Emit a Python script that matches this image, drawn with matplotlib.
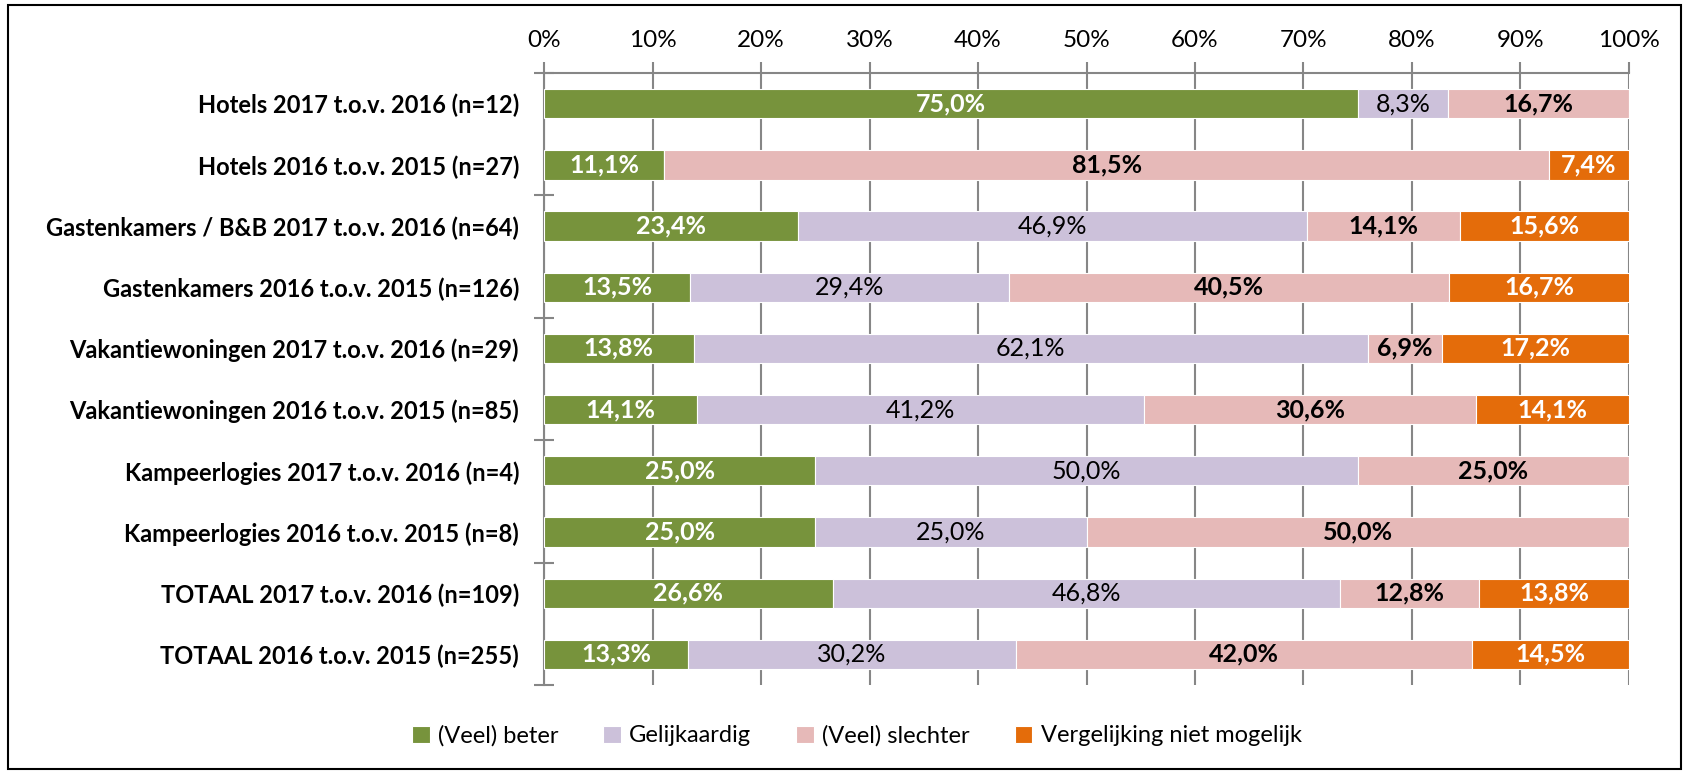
import matplotlib.pyplot as plt
import numpy as np
from matplotlib.patches import Rectangle

plt.rcParams['font.family'] = ['Lato', 'DejaVu Sans']

categories = ["Hotels 2017 t.o.v. 2016 (n=12)",
              "Hotels 2016 t.o.v. 2015 (n=27)",
              "Gastenkamers / B&B 2017 t.o.v. 2016 (n=64)",
              "Gastenkamers 2016 t.o.v. 2015 (n=126)",
              "Vakantiewoningen 2017 t.o.v. 2016 (n=29)",
              "Vakantiewoningen 2016 t.o.v. 2015 (n=85)",
              "Kampeerlogies 2017 t.o.v. 2016 (n=4)",
              "Kampeerlogies 2016 t.o.v. 2015 (n=8)",
              "TOTAAL 2017 t.o.v. 2016 (n=109)",
              "TOTAAL 2016 t.o.v. 2015 (n=255)"]

beter = [75.0, 11.1, 23.4, 13.5, 13.8, 14.1, 25.0, 25.0, 26.6, 13.3]
gelijk = [8.3, 0.0, 46.9, 29.4, 62.1, 41.2, 50.0, 25.0, 46.8, 30.2]
slechter = [16.7, 81.5, 14.1, 40.5, 6.9, 30.6, 25.0, 50.0, 12.8, 42.0]
niet = [0.0, 7.4, 15.6, 16.7, 17.2, 14.1, 0.0, 0.0, 13.8, 14.5]

series_names = ["(Veel) beter", "Gelijkaardig", "(Veel) slechter", "Vergelijking niet mogelijk"]
colors = ["#77933C", "#CCC1DA", "#E6B9B8", "#E46C0A"]
label_colors = ["white", "black", "black", "white"]
label_weights = ["bold", "normal", "bold", "bold"]

fig = plt.figure(figsize=(16.9, 7.72), dpi=100)
ax = fig.add_axes([0.3219, 0.1127, 0.9639 - 0.3219, 0.9054 - 0.1127])

y = np.arange(len(categories))
left = np.zeros(len(categories))
for vals, name, col, lc, lw in zip([beter, gelijk, slechter, niet], series_names,
                                   colors, label_colors, label_weights):
    vals = np.array(vals)
    ax.barh(y, vals, left=left, height=0.48, color=col, edgecolor="white",
            linewidth=0.8, label=name, zorder=3)
    for yi, v, l in zip(y, vals, left):
        if v > 0:
            ax.text(l + v / 2, yi, f"{v:.1f}%".replace(".", ","), ha="center",
                    va="center", color=lc, fontweight=lw, fontsize=18, zorder=4)
    left += vals

ax.set_xlim(0, 100)
ax.set_ylim(len(categories) - 0.5, -0.5)
ax.xaxis.tick_top()
ax.set_xticks(np.arange(0, 101, 10))
ax.set_xticklabels([f"{t}%" for t in range(0, 101, 10)], fontsize=17.5)
ax.tick_params(axis="x", which="major", direction="out", length=8, width=1.5,
               color="#868686", pad=8)
ax.grid(axis="x", color="#868686", linewidth=1.5, zorder=0)

ax.set_yticks(y)
ax.set_yticklabels(categories, fontsize=17, fontweight="bold")
ax.tick_params(axis="y", which="major", length=0, pad=18)
ax.set_yticks(np.arange(-0.5, len(categories), 2), minor=True)
ax.tick_params(axis="y", which="minor", direction="inout", length=14, width=1.5,
               color="#868686")

for s in ["right", "bottom"]:
    ax.spines[s].set_visible(False)
for s in ["left", "top"]:
    ax.spines[s].set_color("#868686")
    ax.spines[s].set_linewidth(1.5)

fig.legend(loc="center", bbox_to_anchor=(0.507, 0.047), ncol=4, frameon=False,
           fontsize=17, handlelength=0.75, handleheight=0.75, handletextpad=0.35,
           columnspacing=1.9)

fig.patches.append(Rectangle((8 / 1690, 3 / 772), 1673 / 1690, 764 / 772,
                             transform=fig.transFigure, fill=False,
                             edgecolor="black", linewidth=1.5))

fig.savefig("out.png", dpi=100)
